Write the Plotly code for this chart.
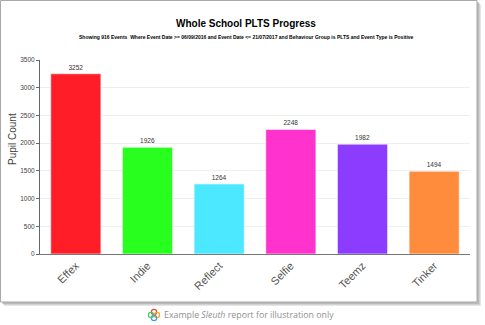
import plotly.graph_objects as go

categories = ["Effex", "Indie", "Reflect", "Selfie", "Teemz", "Tinker"]
counts = [3252, 1926, 1264, 2248, 1982, 1494]
colors = ["#ff1e28", "#28ff1e", "#4be8ff", "#ff32cd", "#8c3cff", "#ff8c3c"]
y_ticks = [0, 500, 1000, 1500, 2000, 2500, 3000, 3500]

title = "Whole School PLTS Progress"
subtitle = ("Showing 916 Events  Where Event Date >= 06/09/2016 and Event Date <= 21/07/2017 "
            "and Behaviour Group is PLTS and Event Type is Positive")
caption = "Example <i>Sleuth</i> report for illustration only"

W, H = 485, 325
L, R, T, B = 40, 15, 60, 71
PW, PH = W - L - R, H - T - B


def px(x):
    return (x - L) / PW


def py(y):
    return (H - B - y) / PH


fig = go.Figure()
fig.add_trace(go.Bar(
    x=categories, y=counts,
    marker=dict(color=colors, line=dict(color="rgba(255,255,255,0.6)", width=1)),
    text=[str(c) for c in counts], textposition="outside",
    textfont=dict(size=6.5, color="#333", family="Liberation Sans"),
    cliponaxis=False,
))

shapes = []
# frame shadow
for off, col in [(4, "#e6e6e6"), (3, "#d2d2d2"), (2, "#bbbbbb")]:
    shapes.append(dict(type="rect", xref="paper", yref="paper", layer="below",
                       x0=px(0.5 + off), x1=px(477 + off), y0=py(302 + off), y1=py(0.5 + off),
                       line=dict(width=0), fillcolor=col))
shapes.append(dict(type="rect", xref="paper", yref="paper", layer="below",
                   x0=px(0.5), x1=px(477), y0=py(302), y1=py(0.5),
                   line=dict(color="#a8a8a8", width=1), fillcolor="white"))
# small logo approximation
for dx, dy, c in [(0, -3, "#e8483c"), (3, 0, "#f5a623"), (0, 3, "#3c9be8"), (-3, 0, "#4cc46a")]:
    cx, cy = 154 + dx, 315 + dy
    shapes.append(dict(type="circle", xref="paper", yref="paper",
                       x0=px(cx - 2.6), x1=px(cx + 2.6), y0=py(cy + 2.6), y1=py(cy - 2.6),
                       line=dict(color=c, width=1.2), fillcolor="rgba(0,0,0,0)"))

annotations = [
    dict(text="<b>" + title + "</b>", x=px(245.5), y=py(23), xref="paper", yref="paper",
         showarrow=False, xanchor="center", yanchor="middle",
         font=dict(size=10, color="#000", family="Liberation Sans")),
    dict(text="<b>" + subtitle + "</b>", x=px(246), y=py(37), xref="paper", yref="paper",
         showarrow=False, xanchor="center", yanchor="middle",
         font=dict(size=5, color="#000", family="Liberation Sans")),
    dict(text="Pupil Count", x=px(12), y=py(139), xref="paper", yref="paper",
         showarrow=False, textangle=-90, xanchor="center", yanchor="middle",
         font=dict(size=10, color="#444", family="Liberation Sans")),
    dict(text=caption, x=px(162), y=py(315), xref="paper", yref="paper", showarrow=False,
         xanchor="left", yanchor="middle",
         font=dict(size=8.8, color="#909090", family="Open Sans")),
]

fig.update_layout(
    width=W, height=H,
    margin=dict(l=L, r=R, t=T, b=B, pad=0),
    paper_bgcolor="white", plot_bgcolor="white",
    showlegend=False, bargap=0.3,
    shapes=shapes, annotations=annotations,
    font=dict(family="Liberation Sans"),
    xaxis=dict(showline=True, linecolor="#777", linewidth=1, ticks="",
               tickangle=-45, tickfont=dict(size=11, color="#555", family="Liberation Sans"),
               showgrid=False, fixedrange=True),
    yaxis=dict(range=[0, 3500], tickvals=y_ticks, showline=True, linecolor="#666", linewidth=1,
               ticks="outside", ticklen=3, tickcolor="#666",
               tickfont=dict(size=6.5, color="#444", family="Liberation Sans"),
               gridcolor="#eeeeee", gridwidth=1, zeroline=False, fixedrange=True),
)

fig.write_html("out.html", config={"displayModeBar": False})
